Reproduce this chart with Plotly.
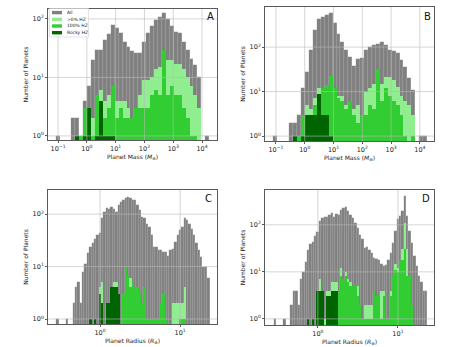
import numpy as np
import plotly.graph_objects as go

# ---------------- data ----------------
MASS_LOG_MIN, MASS_LOG_MAX, MASS_NBINS = -1.085, 4.250, 39
RAD_LOG_MIN, RAD_LOG_MAX, RAD_NBINS = -0.548, 1.367, 65

SERIES_NAMES = ["All", ">0% HZ", "100% HZ", "Rocky HZ"]
SERIES_COLORS = ["#808080", "#90ee90", "#32cd32", "#006400"]

A_ALL = [1, 0, 0, 0, 2, 2, 1, 4, 7, 20,
         30, 30, 44, 55, 80, 70, 57, 41, 33, 28,
         26, 26, 41, 57, 75, 95, 110, 125, 100, 75,
         60, 57, 41, 29, 21, 16, 10, 0, 1]
A_ANY = [0, 0, 0, 0, 0, 1, 1, 3, 3, 2,
         5, 6, 4, 5, 7, 4, 4, 4, 3, 2,
         3, 5, 9, 9, 10, 14, 15, 30, 20, 20,
         17, 17, 14, 10, 7, 5, 3, 0, 0]
A_FULL = [0, 0, 0, 0, 0, 1, 1, 3, 3, 1,
          5, 4, 2, 3, 7, 2, 3, 2, 2, 2,
          3, 3, 3, 3, 5, 6, 5, 30, 5, 7,
          5, 5, 3, 2, 1, 1, 0, 0, 0]
A_ROCKY = [0, 0, 0, 0, 0, 1, 0, 1, 3, 0,
           1, 4, 1, 1, 1, 0, 0, 0, 0, 0,
           0, 0, 0, 0, 0, 0, 0, 0, 0, 0,
           0, 0, 0, 0, 0, 0, 0, 0, 0]

B_ALL = [1, 0, 0, 0, 2, 2, 3, 12, 28, 85,
         240, 420, 480, 520, 570, 340, 200, 130, 85, 60,
         38, 55, 56, 86, 100, 110, 120, 130, 110, 86,
         80, 74, 52, 36, 20, 11, 0, 1, 1]
B_ANY = [0, 0, 0, 0, 0, 1, 1, 3, 5, 4,
         7, 12, 12, 14, 22, 12, 8, 8, 5, 6,
         4, 5, 3, 10, 12, 15, 33, 15, 21, 21,
         18, 13, 8, 6, 5, 3, 0, 0, 0]
B_FULL = [0, 0, 0, 0, 0, 1, 1, 3, 3, 3,
          5, 9, 12, 14, 22, 12, 7, 6, 4, 6,
          3, 2, 3, 3, 5, 4, 33, 6, 12, 8,
          6, 5, 3, 1, 0, 1, 0, 0, 0]
B_ROCKY = [0, 0, 0, 0, 0, 1, 0, 1, 3, 3,
           3, 9, 3, 3, 1, 0, 0, 0, 0, 0,
           0, 0, 0, 0, 0, 0, 0, 0, 0, 0,
           0, 0, 0, 0, 0, 0, 0, 0, 0]

C_ALL = [1, 0, 0, 0, 1, 0, 0, 2, 4, 5,
         2, 8, 11, 18, 24, 28, 34, 40, 43, 83,
         110, 130, 125, 138, 125, 110, 148, 170, 185, 200,
         215, 200, 190, 185, 150, 120, 89, 83, 66, 57,
         40, 24, 24, 21, 21, 19, 19, 16, 21, 22,
         30, 40, 50, 57, 83, 77, 66, 53, 40, 28,
         21, 15, 10, 10, 6]
C_ANY = [0, 0, 0, 0, 0, 0, 0, 0, 0, 0,
         0, 0, 0, 0, 1, 0, 1, 0, 4, 5,
         0, 2, 2, 4, 5, 5, 1, 0, 3, 10,
         7, 6, 5, 4, 4, 3, 2, 4, 1, 1,
         1, 1, 1, 1, 2, 3, 1, 0, 0, 2,
         2, 2, 2, 2, 4, 0, 0, 0, 0, 0,
         0, 0, 0, 0, 0]
C_FULL = [0, 0, 0, 0, 0, 0, 0, 0, 0, 0,
          0, 0, 0, 0, 1, 0, 1, 0, 3, 2,
          0, 2, 2, 4, 4, 4, 1, 0, 3, 10,
          7, 4, 5, 4, 4, 3, 2, 4, 1, 1,
          1, 1, 1, 1, 2, 3, 1, 0, 0, 0,
          0, 0, 1, 1, 1, 0, 0, 0, 0, 0,
          0, 0, 0, 0, 0]
C_ROCKY = [0, 0, 0, 0, 0, 0, 0, 0, 0, 0,
           0, 0, 0, 0, 1, 0, 1, 0, 3, 2,
           0, 2, 2, 4, 4, 4, 3, 0, 0, 0,
           0, 0, 0, 0, 0, 0, 0, 0, 0, 0,
           0, 0, 0, 0, 0, 0, 0, 0, 0, 0,
           0, 0, 0, 0, 0, 0, 0, 0, 0, 0,
           0, 0, 0, 0, 0]

D_ALL = [1, 0, 0, 0, 1, 0, 0, 2, 4, 4,
         2, 7, 10, 16, 29, 39, 44, 57, 72, 118,
         138, 145, 150, 163, 177, 150, 170, 165, 208, 226,
         236, 195, 165, 140, 110, 86, 62, 49, 32, 34,
         29, 25, 20, 19, 18, 15, 13, 14, 18, 25,
         41, 73, 130, 152, 195, 405, 152, 73, 41, 22,
         13, 8, 6, 4, 4]
D_ANY = [0, 0, 0, 0, 0, 0, 0, 0, 0, 0,
         0, 0, 0, 0, 0, 0, 0, 0, 4, 7,
         4, 1, 4, 4, 6, 6, 6, 4, 12, 7,
         10, 7, 6, 5, 5, 5, 2, 1, 2, 2,
         2, 2, 4, 3, 3, 4, 4, 1, 1, 4,
         8, 15, 12, 18, 30, 110, 30, 8, 2, 0,
         0, 0, 0, 0, 0]
D_FULL = [0, 0, 0, 0, 0, 0, 0, 0, 0, 0,
          0, 0, 0, 0, 0, 0, 0, 0, 4, 4,
          4, 0, 3, 3, 4, 4, 4, 4, 8, 7,
          8, 6, 5, 5, 5, 3, 2, 1, 1, 1,
          1, 1, 4, 3, 3, 1, 3, 1, 1, 3,
          8, 11, 10, 18, 18, 30, 8, 8, 2, 0,
          0, 0, 0, 0, 0]
D_ROCKY = [0, 0, 0, 0, 0, 0, 0, 0, 0, 0,
           0, 0, 0, 0, 1, 0, 1, 0, 4, 4,
           4, 0, 3, 3, 4, 4, 4, 0, 0, 0,
           0, 0, 0, 0, 0, 0, 0, 0, 0, 0,
           0, 0, 0, 0, 0, 0, 0, 0, 0, 0,
           0, 0, 0, 0, 0, 0, 0, 0, 0, 0,
           0, 0, 0, 0, 0]

MASS_TICKS = [-1, 0, 1, 2, 3, 4]
RAD_TICKS = [0, 1]
COUNT_TICKS = [0, 1, 2]
PANEL_LETTERS = ["A", "B", "C", "D"]
X_TITLES = {"mass": "Planet Mass (<i>M</i><sub>⊕</sub>)",
            "rad": "Planet Radius (<i>R</i><sub>⊕</sub>)"}
Y_TITLE = "Number of Planets"

# ---------------- layout helpers ----------------
W, H = 474, 347
FONT = "DejaVu Sans"


def fx(p):
    return p / W


def fy(p):
    return 1 - p / H


def pow_label(e):
    s = str(e).replace("-", "\u2212")
    return f"10<sup>{s}</sup>"


mass_edges = np.linspace(MASS_LOG_MIN, MASS_LOG_MAX, MASS_NBINS + 1)
rad_edges = np.linspace(RAD_LOG_MIN, RAD_LOG_MAX, RAD_NBINS + 1)

panels = [
    dict(series=[A_ALL, A_ANY, A_FULL, A_ROCKY], kind="mass",
         xpx=(48, 217), ypx=(9, 140), xr=(-1.35, 4.52), yr=(-0.07, 2.17),
         letter_px=(210, 16)),
    dict(series=[B_ALL, B_ANY, B_FULL, B_ROCKY], kind="mass",
         xpx=(265, 434), ypx=(7, 141), xr=(-1.38, 4.49), yr=(-0.11, 2.90),
         letter_px=(427, 17)),
    dict(series=[C_ALL, C_ANY, C_FULL, C_ROCKY], kind="rad",
         xpx=(48, 217), ypx=(190, 324), xr=(-0.65, 1.46), yr=(-0.095, 2.46),
         letter_px=(208, 199)),
    dict(series=[D_ALL, D_ANY, D_FULL, D_ROCKY], kind="rad",
         xpx=(265, 434), ypx=(190, 325), xr=(-0.66, 1.45), yr=(-0.13, 2.74),
         letter_px=(426, 198)),
]

fig = go.Figure()
shapes = []
annotations = []
layout = {}

for i, p in enumerate(panels):
    n = i + 1
    xa = "x" if n == 1 else f"x{n}"
    ya = "y" if n == 1 else f"y{n}"
    edges = mass_edges if p["kind"] == "mass" else rad_edges
    centers = (edges[:-1] + edges[1:]) / 2
    width = edges[1] - edges[0]
    for s, (vals, name, col) in enumerate(zip(p["series"], SERIES_NAMES, SERIES_COLORS)):
        yv = [v if v > 0 else None for v in vals]
        line = dict(color="rgba(255,255,255,0.18)", width=0.3) if s == 0 else dict(width=0)
        fig.add_trace(go.Bar(x=centers, y=yv, width=width, name=name,
                             marker=dict(color=col, line=line),
                             xaxis=xa, yaxis=ya, showlegend=False,
                             hoverinfo="skip"))
    ticks = MASS_TICKS if p["kind"] == "mass" else RAD_TICKS
    axis_common = dict(showline=True, mirror=True, linecolor="#5a5a5a", linewidth=0.8,
                       ticks="outside", ticklen=2, tickwidth=0.6, tickcolor="#5a5a5a",
                       showgrid=False, zeroline=False,
                       tickfont=dict(family=FONT, size=6.5, color="#222"))
    layout["xaxis" if n == 1 else f"xaxis{n}"] = dict(
        axis_common, domain=[fx(p["xpx"][0]), fx(p["xpx"][1])],
        range=list(p["xr"]), anchor=ya, tickmode="array",
        tickvals=ticks, ticktext=[pow_label(t) for t in ticks],
        title=dict(text=X_TITLES[p["kind"]], standoff=1,
                   font=dict(family=FONT, size=6, color="#222")))
    layout["yaxis" if n == 1 else f"yaxis{n}"] = dict(
        axis_common, type="log", domain=[fy(p["ypx"][1]), fy(p["ypx"][0])],
        range=list(p["yr"]), anchor=xa, tickmode="array",
        tickvals=[10 ** t for t in COUNT_TICKS],
        ticktext=[pow_label(t) for t in COUNT_TICKS],
        title=dict(text=Y_TITLE, standoff=3,
                   font=dict(family=FONT, size=6, color="#222")))
    # gridlines drawn above bars (as in matplotlib)
    for t in ticks:
        if p["xr"][0] < t < p["xr"][1]:
            shapes.append(dict(type="line", xref=xa, yref=f"{ya} domain",
                               x0=t, x1=t, y0=0, y1=1, layer="above",
                               line=dict(color="#b8b8b8", width=0.6)))
    for t in COUNT_TICKS:
        if p["yr"][0] < t < p["yr"][1]:
            shapes.append(dict(type="line", xref=f"{xa} domain", yref=ya,
                               x0=0, x1=1, y0=10 ** t, y1=10 ** t, layer="above",
                               line=dict(color="#b8b8b8", width=0.6)))
    lx, ly = p["letter_px"]
    annotations.append(dict(text=PANEL_LETTERS[i], x=fx(lx), y=fy(ly), xref="paper",
                            yref="paper", showarrow=False, xanchor="center",
                            yanchor="middle",
                            font=dict(family=FONT, size=10, color="#111")))

# manual matplotlib-style legend in panel A
shapes.append(dict(type="rect", xref="paper", yref="paper",
                   x0=fx(49.5), x1=fx(88.5), y0=fy(37), y1=fy(8.5), layer="above",
                   fillcolor="rgba(255,255,255,0.85)",
                   line=dict(color="#d0d0d0", width=0.6)))
for j, (name, col) in enumerate(zip(SERIES_NAMES, SERIES_COLORS)):
    cy = 12.6 + j * 6.7
    shapes.append(dict(type="rect", xref="paper", yref="paper",
                       x0=fx(52), x1=fx(62), y0=fy(cy + 1.7), y1=fy(cy - 1.7),
                       layer="above", fillcolor=col, line=dict(width=0)))
    annotations.append(dict(text=name, x=fx(64.5), y=fy(cy), xref="paper",
                            yref="paper", showarrow=False, xanchor="left",
                            yanchor="middle",
                            font=dict(family=FONT, size=4.5, color="#222")))

fig.update_layout(
    width=W, height=H, margin=dict(l=0, r=0, t=0, b=0),
    paper_bgcolor="white", plot_bgcolor="white",
    barmode="overlay", bargap=0, showlegend=False,
    shapes=shapes, annotations=annotations, **layout)

fig.write_html("out.html")
